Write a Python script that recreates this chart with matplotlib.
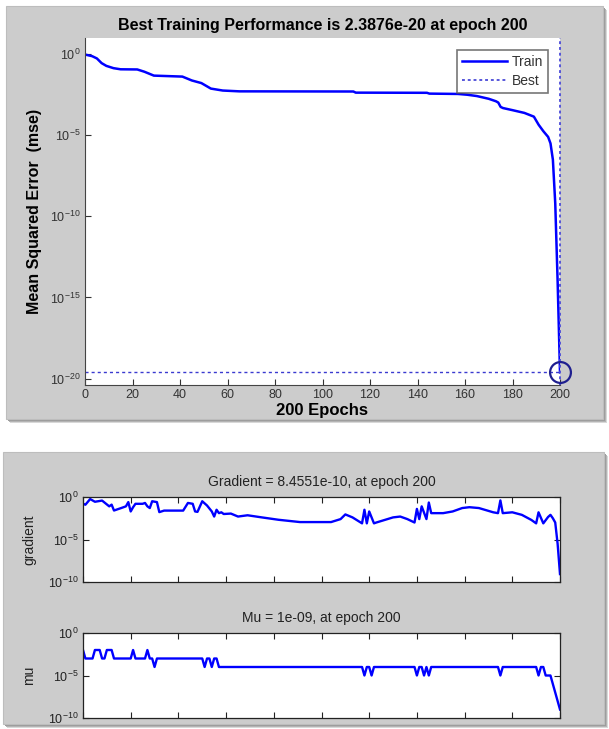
import matplotlib
matplotlib.use('Agg')
import matplotlib.pyplot as plt
import numpy as np
from matplotlib.patches import Rectangle

plt.rcParams['font.family'] = ['Liberation Sans', 'DejaVu Sans']
plt.rcParams['mathtext.fontset'] = 'custom'
plt.rcParams['mathtext.rm'] = 'Liberation Sans'
plt.rcParams['mathtext.it'] = 'Liberation Sans:italic'
plt.rcParams['mathtext.bf'] = 'Liberation Sans:bold'

###
### values (log10 of the quantity)
###
train_epochs = [0, 3, 5, 7, 9, 12, 15, 22, 25, 29, 41, 45, 49, 53, 58, 65, 113, 114,
                144, 145, 157, 161, 165, 170, 173, 174, 175, 176, 180, 185, 189, 190,
                191, 193, 195, 196, 197, 198, 199, 200]
train_log_mse = [-0.02, -0.12, -0.26, -0.55, -0.72, -0.86, -0.93, -0.94, -1.08, -1.32,
                 -1.38, -1.62, -1.78, -2.12, -2.24, -2.29, -2.30, -2.37, -2.38, -2.43,
                 -2.45, -2.50, -2.58, -2.75, -2.90, -2.98, -3.25, -3.32, -3.45, -3.62,
                 -3.85, -4.10, -4.35, -4.75, -5.10, -5.50, -6.50, -9.20, -14.0, -19.62]
best_epoch = 200
best_perf = 2.3876e-20

grad_epochs = [0, 1, 3, 5, 8, 11, 12, 13, 16, 18, 19, 20, 21, 22, 25, 26, 27, 28, 29, 31,
               32, 34, 42, 44, 46, 47, 48, 50, 52, 54, 55, 56, 57, 58, 59, 62, 65, 69, 75,
               82, 91, 104, 108, 110, 113, 117, 118, 119, 120, 122, 123, 130, 133, 136,
               139, 140, 141, 142, 144, 145, 146, 151, 155, 159, 162, 166, 172, 174, 175,
               176, 180, 184, 188, 190, 191, 193, 195, 196, 197, 198, 199, 200]
grad_log = [-0.79, -0.91, -0.24, -0.56, -0.42, -1.10, -0.90, -1.59, -1.30, -1.10, -0.60,
            -1.70, -1.20, -0.80, -0.80, -0.70, -1.10, -1.30, -0.50, -0.60, -1.78, -1.60,
            -1.60, -0.70, -0.80, -1.70, -1.75, -0.50, -1.00, -1.70, -2.30, -1.50, -1.90,
            -1.80, -2.00, -1.95, -2.30, -2.15, -2.40, -2.68, -2.95, -2.95, -2.60, -2.05,
            -2.40, -3.10, -1.50, -3.10, -1.70, -3.10, -3.00, -2.40, -2.30, -2.60, -3.00,
            -1.40, -2.60, -1.10, -2.60, -0.65, -1.90, -1.90, -1.70, -1.30, -1.20, -1.30,
            -1.80, -1.90, -0.40, -1.90, -1.80, -2.10, -2.70, -3.10, -1.80, -3.10, -2.35,
            -2.10, -2.50, -3.00, -5.50, -9.07]

mu_epochs = [0, 1, 4, 5, 7, 8, 9, 10, 12, 13, 20, 21, 22, 26, 27, 28, 29, 30, 31, 50, 51,
             52, 53, 54, 55, 56, 57, 117, 118, 119, 120, 121, 122, 139, 140, 141, 142,
             143, 144, 145, 146, 174, 175, 176, 190, 191, 192, 193, 194, 196, 197, 198,
             199, 200]
mu_log = [-2, -3, -3, -2, -2, -3, -3, -2, -2, -3, -3, -2, -3, -3, -2, -3, -3, -4, -3, -3,
          -4, -3, -3, -4, -3, -3, -4, -4, -5, -4, -4, -5, -4, -4, -5, -4, -4, -5, -4, -5,
          -4, -4, -5, -4, -4, -5, -4, -4, -5, -5, -6, -7, -8, -9]

W, H = 609, 729
fig = plt.figure(figsize=(W / 100, H / 100), dpi=100)
fig.patch.set_facecolor('white')


def box(x0, y0, x1, y1):
    # pixel box (top-left origin) -> figure fraction rect
    return [x0 / W, 1 - y1 / H, (x1 - x0) / W, (y1 - y0) / H]


def panel(x0, y0, x1, y1):
    for off, col in [(4, '#d8d8d8'), (3, '#b4b4b4'), (2, '#9c9c9c')]:
        r = box(x0 + off, y0 + off, x1 + off, y1 + off)
        fig.patches.append(Rectangle((r[0], r[1]), r[2], r[3], transform=fig.transFigure,
                                     facecolor=col, edgecolor='none', zorder=-3))
    r = box(x0, y0, x1, y1)
    fig.patches.append(Rectangle((r[0], r[1]), r[2], r[3], transform=fig.transFigure,
                                 facecolor='#cccccc', edgecolor='#bdbdbd', lw=0.8, zorder=-2))


panel(6, 6, 603, 419)
panel(3, 452, 604, 724)

tick_col = '#333333'

# performance plot
ax = fig.add_axes(box(85, 38, 560, 385))
ax.plot(train_epochs, 10.0 ** np.array(train_log_mse), color='#0000ff', lw=1.8, label='Train')
ax.axhline(best_perf, color='#3a3ad0', lw=1.0, ls=(0, (2.2, 2.2)))
ax.axvline(best_epoch, color='#4a4ad8', lw=1.3, ls=(0, (1.6, 1.6)), label='Best', clip_on=False)
ax.plot([best_epoch], [best_perf], 'o', ms=15, mfc='none', mec='#1f1f8f', mew=1.6, clip_on=False)
ax.set_yscale('log')
ax.set_xlim(0, 200)
ax.set_ylim(10 ** -20.4, 10 ** 1.0)
ax.set_xticks(np.arange(0, 201, 20))
ax.set_yticks([1e0, 1e-5, 1e-10, 1e-15, 1e-20])
ax.minorticks_off()
ax.tick_params(direction='in', length=4, width=0.8, colors=tick_col, labelsize=9, pad=3)
for s in ['top', 'right']:
    ax.spines[s].set_visible(False)
for s in ['left', 'bottom']:
    ax.spines[s].set_color('#444444')
ax.set_title('Best Training Performance is 2.3876e-20 at epoch 200', fontsize=11.5,
             fontweight='bold', pad=6)
ax.set_xlabel('200 Epochs', fontsize=12, fontweight='bold', labelpad=1)
ax.set_ylabel('Mean Squared Error  (mse)', fontsize=11.5, fontweight='bold')
ax.yaxis.set_label_coords(-0.09, 0.5)
leg = ax.legend(loc='upper right', bbox_to_anchor=(0.99, 0.985), fontsize=10, frameon=True,
                fancybox=False, handlelength=3.2, borderpad=0.35, labelspacing=0.35,
                handletextpad=0.4, markerfirst=True)
leg.get_frame().set_edgecolor('#555555')
leg.get_frame().set_linewidth(1.2)
for t in leg.get_texts():
    t.set_color('#333333')

# gradient and mu
for name, ep, vals, ttl, top in [('gradient', grad_epochs, grad_log,
                                  'Gradient = 8.4551e-10, at epoch 200', 497),
                                 ('mu', mu_epochs, mu_log, 'Mu = 1e-09, at epoch 200', 633)]:
    a = fig.add_axes(box(83, top, 560, top + 85))
    a.plot(ep, 10.0 ** np.array(vals, dtype=float), color='#0000ff', lw=1.7)
    a.set_yscale('log')
    a.set_xlim(0, 200)
    a.set_ylim(1e-10, 1e0)
    a.set_xticks(np.arange(0, 201, 20))
    a.set_xticklabels([])
    a.set_yticks([1e0, 1e-5, 1e-10])
    a.minorticks_off()
    a.tick_params(direction='in', length=4, width=0.8, colors='#222222', labelsize=9,
                  top=True, right=True, pad=3)
    for s in a.spines.values():
        s.set_color('#222222')
        s.set_linewidth(0.9)
    a.set_title(ttl, fontsize=10, pad=8, color='#222222')
    a.set_ylabel(name, fontsize=10, color='#222222')
    a.yaxis.set_label_coords(-0.098, 0.5)

fig.savefig('out.png', dpi=100)
